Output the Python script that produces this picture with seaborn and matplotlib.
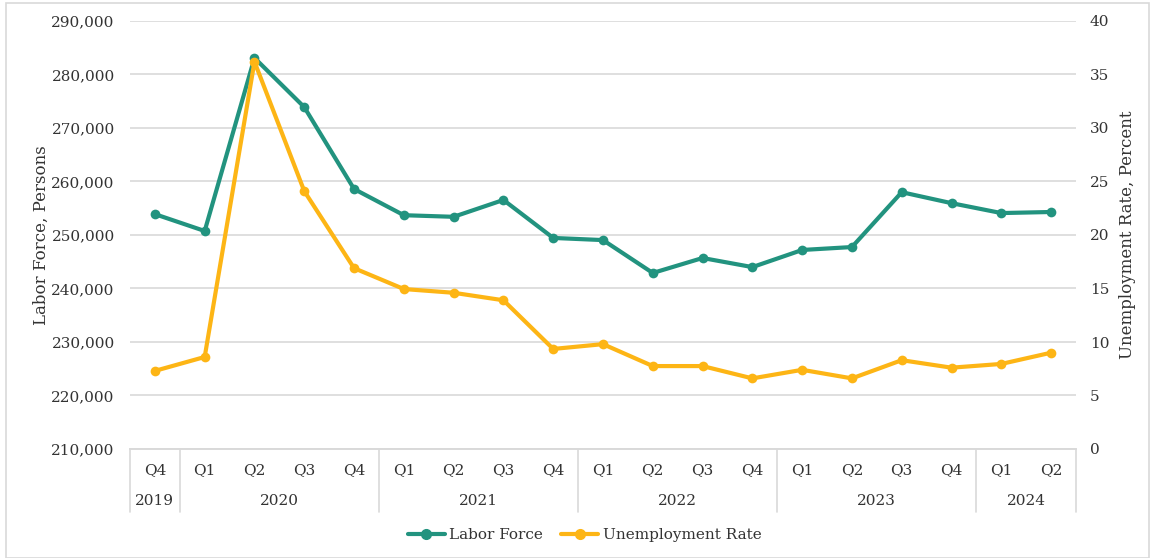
import matplotlib
matplotlib.use("Agg")
import matplotlib.pyplot as plt
import seaborn as sns
import pandas as pd
from matplotlib.lines import Line2D
from matplotlib.patches import Rectangle
from matplotlib.ticker import FuncFormatter

quarters = ["Q4", "Q1", "Q2", "Q3", "Q4", "Q1", "Q2", "Q3", "Q4", "Q1",
            "Q2", "Q3", "Q4", "Q1", "Q2", "Q3", "Q4", "Q1", "Q2"]
years = ["2019", "2020", "2020", "2020", "2020", "2021", "2021", "2021", "2021",
         "2022", "2022", "2022", "2022", "2023", "2023", "2023", "2023", "2024", "2024"]
labor_force = [253900, 250750, 283100, 273900, 258600, 253700, 253400, 256550, 249450,
               249050, 242900, 245700, 244000, 247200, 247750, 258000, 255950, 254100, 254300]
unemployment = [7.3, 8.6, 36.2, 24.1, 16.9, 14.95, 14.6, 13.9, 9.35,
                9.8, 7.75, 7.75, 6.6, 7.4, 6.6, 8.3, 7.6, 7.95, 9.0]

teal = "#22937F"
gold = "#FDB515"
grid_c = "#D9D9D9"
text_c = "#333333"

df = pd.DataFrame({"idx": range(len(quarters)), "quarter": quarters, "year": years,
                   "labor": labor_force, "unemp": unemployment})

sns.set_theme(style="white")
plt.rcParams["font.family"] = ["DejaVu Serif"]
plt.rcParams["text.color"] = text_c

fig = plt.figure(figsize=(11.51, 5.58), dpi=100)
ax = fig.add_axes([130 / 1151, 1 - 449 / 558, 946 / 1151, 428 / 558])
ax2 = ax.twinx()

sns.lineplot(data=df, x="idx", y="labor", ax=ax, color=teal, linewidth=3,
             marker="o", markersize=7, markeredgewidth=0, zorder=3)
sns.lineplot(data=df, x="idx", y="unemp", ax=ax2, color=gold, linewidth=3,
             marker="o", markersize=7, markeredgewidth=0, zorder=3)

ax.set_ylim(210000, 290000)
ax.set_yticks(range(210000, 290001, 10000))
ax.yaxis.set_major_formatter(FuncFormatter(lambda v, p: f"{int(v):,}"))
ax2.set_ylim(0, 40)
ax2.set_yticks(range(0, 41, 5))
ax.set_xlim(-0.5, len(quarters) - 0.5)

ax.grid(axis="y", color=grid_c, linewidth=1.2)
ax.set_axisbelow(True)
for a in (ax, ax2):
    for s in ["top", "left", "right"]:
        a.spines[s].set_visible(False)
    a.spines["bottom"].set_color(grid_c)
    a.spines["bottom"].set_linewidth(1.2)
    a.tick_params(axis="y", length=0, labelsize=11, labelcolor=text_c)

ax.tick_params(axis="y", pad=11)
ax2.tick_params(axis="y", pad=10)
ax.set_xticks(df["idx"])
ax.set_xticklabels(quarters)
ax.tick_params(axis="x", length=0, labelsize=11, labelcolor=text_c, pad=10)
ax.set_xlabel("")
ax.set_ylabel("Labor Force, Persons", fontsize=12, color=text_c, labelpad=1)
ax2.set_ylabel("Unemployment Rate, Percent", fontsize=12, color=text_c, labelpad=7)

# year labels and separators under the quarters
trans = ax.get_xaxis_transform()
bounds = [-0.5]
for i in range(1, len(years)):
    if years[i] != years[i - 1]:
        bounds.append(i - 0.5)
bounds.append(len(years) - 0.5)
for b in bounds:
    ax.add_line(Line2D([b, b], [0, -63 / 428], transform=trans, color=grid_c,
                       linewidth=1.2, clip_on=False))
for a, b in zip(bounds[:-1], bounds[1:]):
    yr = years[int(a + 0.5)]
    ax.text((a + b) / 2, -52 / 428, yr, transform=trans, ha="center", va="center",
            fontsize=11, color=text_c)

handles = [Line2D([], [], color=teal, linewidth=3, marker="o", markersize=7),
           Line2D([], [], color=gold, linewidth=3, marker="o", markersize=7)]
fig.legend(handles, ["Labor Force", "Unemployment Rate"], loc="center",
           bbox_to_anchor=(0.508, 1 - 535 / 558), ncol=2, frameon=False, fontsize=11,
           handlelength=2.4, handletextpad=0.3, columnspacing=1.2)

fig.patches.append(Rectangle((6 / 1151, 0), 1 - 8 / 1151, 1 - 3 / 558, transform=fig.transFigure,
                             fill=False, edgecolor=grid_c, linewidth=1.2))

fig.savefig("out.png", dpi=100)
